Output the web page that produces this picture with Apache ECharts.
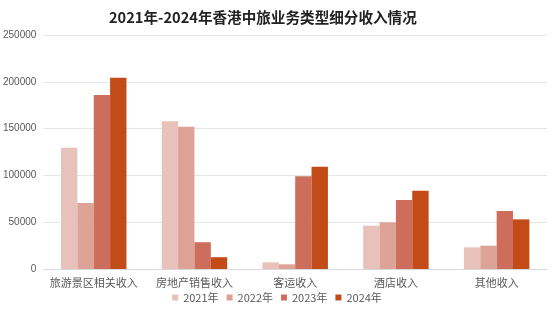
<!DOCTYPE html>
<html>
<head>
<meta charset="utf-8">
<script src="https://cdn.jsdelivr.net/npm/echarts@6/dist/echarts.min.js"></script>
<style>html,body{margin:0;padding:0;background:#fff}#c{width:554px;height:311px}</style>
</head>
<body>
<div id="c"></div>
<script>
var categories = ['旅游景区相关收入', '房地产销售收入', '客运收入', '酒店收入', '其他收入'];
var seriesNames = ['2021年', '2022年', '2023年', '2024年'];
var v2021 = [129600, 157800, 7100, 46300, 23100];
var v2022 = [70500, 152000, 5000, 49900, 24900];
var v2023 = [185900, 28600, 99000, 73700, 62000];
var v2024 = [204400, 12600, 109300, 83700, 53000];
var yTicks = [0, 50000, 100000, 150000, 200000, 250000];
var colors = ['#E8C2BA', '#DDA397', '#CD6E5C', '#C24B17'];

var chart = echarts.init(document.getElementById('c'), null, {renderer: 'canvas'});
var font = '"Noto Sans CJK SC", "Noto Sans", sans-serif';
var numFont = '"Liberation Sans", Arial, sans-serif';
var data = [v2021, v2022, v2023, v2024];
chart.setOption({
  animation: false,
  color: colors,
  title: {
    text: '2021年-2024年香港中旅业务类型细分收入情况',
    left: 104, top: 5,
    textStyle: {fontSize: 14.6, fontWeight: 'bold', color: '#222', fontFamily: font}
  },
  legend: {
    data: seriesNames,
    bottom: 3, left: 'center',
    icon: 'rect', itemWidth: 6, itemHeight: 6, itemGap: 8,
    textStyle: {fontSize: 11, color: '#595959', fontFamily: font}
  },
  grid: {left: 43, right: 7, top: 35, bottom: 42, containLabel: false},
  xAxis: {
    type: 'category', data: categories,
    axisLine: {lineStyle: {color: '#d9d9d9'}},
    axisTick: {show: false},
    axisLabel: {fontSize: 11, color: '#595959', margin: 8, interval: 0, fontFamily: font}
  },
  yAxis: {
    type: 'value', min: yTicks[0], max: yTicks[yTicks.length - 1], interval: 50000,
    axisLine: {show: false}, axisTick: {show: false},
    splitLine: {lineStyle: {color: '#e6e6e6'}},
    axisLabel: {fontSize: 10, color: '#595959', margin: 7, fontFamily: numFont,
      formatter: function (v) { return String(v); }}
  },
  series: seriesNames.map(function (n, i) {
    return {
      name: n, type: 'bar', data: data[i],
      barGap: '0%', barCategoryGap: '35%',
      itemStyle: {color: colors[i]}
    };
  })
});
</script>
</body>
</html>
